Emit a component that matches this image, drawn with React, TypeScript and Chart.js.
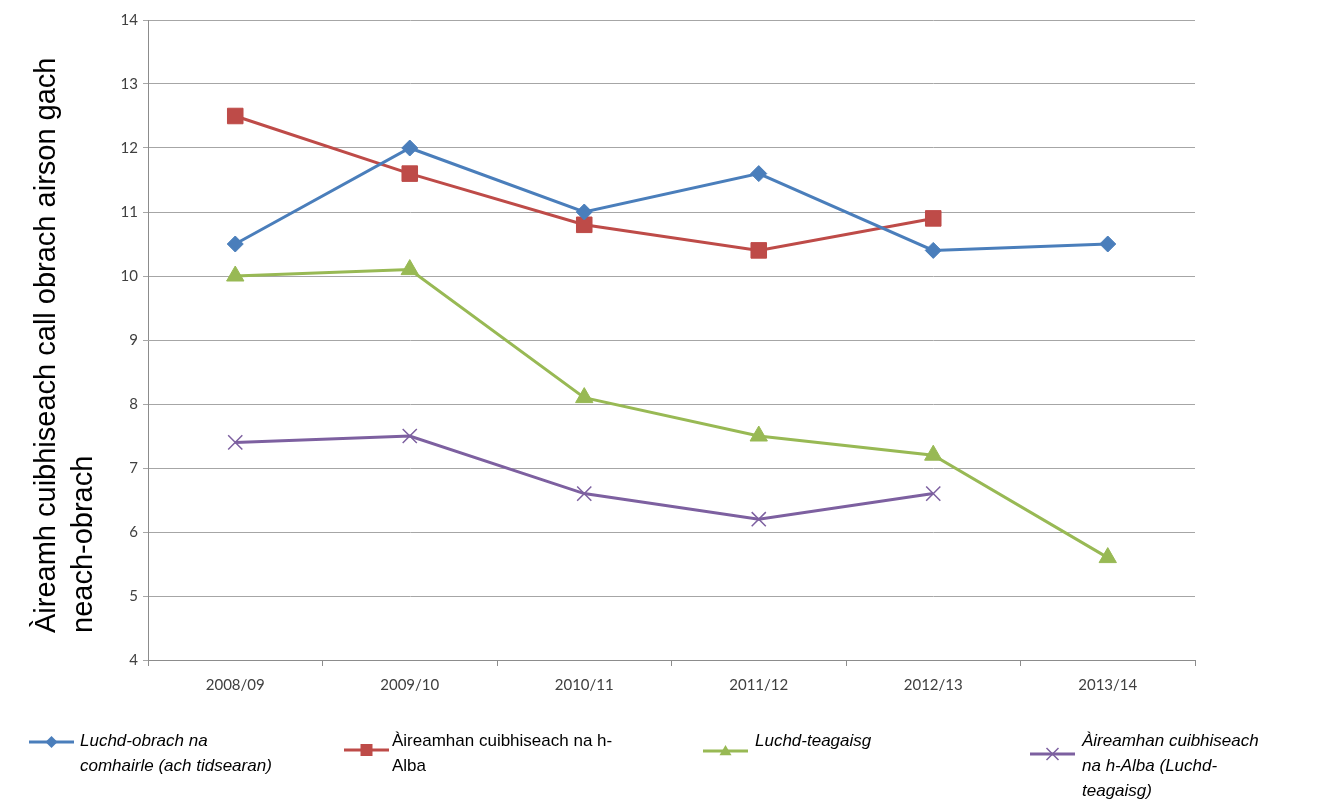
import React, { useEffect, useRef } from "react";
import { Chart, registerables } from "chart.js";

Chart.register(...registerables);

const categories = ["2008/09", "2009/10", "2010/11", "2011/12", "2012/13", "2013/14"];
const councilStaff = [10.5, 12.0, 11.0, 11.6, 10.4, 10.5];
const scotlandAverage = [12.5, 11.6, 10.8, 10.4, 10.9, null];
const teachers = [10.0, 10.1, 8.1, 7.5, 7.2, 5.6];
const scotlandTeachersAverage = [7.4, 7.5, 6.6, 6.2, 6.6, null];

const legendLines = [
  ["Luchd-obrach na", "comhairle (ach tidsearan)"],
  ["Àireamhan cuibhiseach na h-", "Alba"],
  ["Luchd-teagaisg"],
  ["Àireamhan cuibhiseach", "na h-Alba (Luchd-", "teagaisg)"],
];
const legendItalic = [true, false, true, true];
const yTitleLines = ["Àireamh cuibhiseach call obrach airson gach", "neach-obrach"];
const yMin = 4;
const yMax = 14;

const colors = ["#4A7EBB", "#BE4B48", "#98B954", "#7D60A0"];

const legendPos = [
  { mx: 29, tx: 80, my: 742 },
  { mx: 344, tx: 392, my: 750 },
  { mx: 703, tx: 755, my: 751 },
  { mx: 1030, tx: 1082, my: 754 },
];

function drawMarker(ctx: any, type: string, r: number, x: number, y: number, color: string) {
  ctx.save();
  ctx.fillStyle = color;
  ctx.strokeStyle = color;
  ctx.beginPath();
  if (type === "rectRot") {
    ctx.moveTo(x, y - r);
    ctx.lineTo(x + r, y);
    ctx.lineTo(x, y + r);
    ctx.lineTo(x - r, y);
    ctx.closePath();
    ctx.fill();
  } else if (type === "rect") {
    ctx.rect(x - r, y - r, 2 * r, 2 * r);
    ctx.fill();
  } else if (type === "triangle") {
    ctx.moveTo(x, y - r);
    ctx.lineTo(x + r, y + r * 0.7);
    ctx.lineTo(x - r, y + r * 0.7);
    ctx.closePath();
    ctx.fill();
  } else {
    ctx.lineWidth = 1.5;
    ctx.moveTo(x - r, y - r);
    ctx.lineTo(x + r, y + r);
    ctx.moveTo(x + r, y - r);
    ctx.lineTo(x - r, y + r);
    ctx.stroke();
  }
  ctx.restore();
}

const customPlugin = {
  id: "customDecor",
  afterDraw(chart: any) {
    const ctx = chart.ctx;
    ctx.save();
    // y-axis title
    ctx.fillStyle = "#000";
    ctx.font = "29px 'Liberation Sans', Arial, sans-serif";
    ctx.textAlign = "left";
    ctx.textBaseline = "middle";
    const xs = [47, 84];
    yTitleLines.forEach((line, i) => {
      ctx.save();
      ctx.translate(xs[i], 633);
      ctx.rotate(-Math.PI / 2);
      ctx.fillText(line, 0, 0);
      ctx.restore();
    });
    // legend
    chart.data.datasets.forEach((ds: any, i: number) => {
      const p = legendPos[i];
      ctx.strokeStyle = ds.borderColor;
      ctx.lineWidth = 3;
      ctx.beginPath();
      ctx.moveTo(p.mx, p.my);
      ctx.lineTo(p.mx + 45, p.my);
      ctx.stroke();
      drawMarker(ctx, ds.pointStyle, 6, p.mx + 22.5, p.my, ds.borderColor);
      ctx.fillStyle = "#000";
      ctx.font = (legendItalic[i] ? "italic " : "") + "17px 'Liberation Sans', Arial, sans-serif";
      ctx.textAlign = "left";
      ctx.textBaseline = "middle";
      legendLines[i].forEach((l, j) => {
        ctx.fillText(l, p.tx, 741 + j * 25);
      });
    });
    ctx.restore();
  },
};

export default function App() {
  const canvasRef = useRef<HTMLCanvasElement | null>(null);

  useEffect(() => {
    const canvas = canvasRef.current;
    if (!canvas) return;
    const mk = (label: string, data: any[], color: string, pointStyle: string, radius: number, bw: number) => ({
      label,
      data,
      borderColor: color,
      backgroundColor: color,
      pointBackgroundColor: color,
      pointBorderColor: color,
      pointStyle,
      pointRadius: radius,
      pointBorderWidth: bw,
      borderWidth: 3,
      tension: 0,
      spanGaps: false,
    });
    const chart = new Chart(canvas, {
      type: "line",
      data: {
        labels: categories,
        datasets: [
          mk(legendLines[0].join(" "), councilStaff, colors[0], "rectRot", 8, 1),
          mk(legendLines[1].join(" "), scotlandAverage, colors[1], "rect", 11, 1),
          mk(legendLines[2].join(" "), teachers, colors[2], "triangle", 10, 1),
          mk(legendLines[3].join(" "), scotlandTeachersAverage, colors[3], "crossRot", 10, 1.5),
        ],
      },
      options: {
        animation: false,
        responsive: false,
        maintainAspectRatio: false,
        layout: { padding: { left: 0, top: 20, right: 124, bottom: 92 } },
        plugins: {
          legend: { display: false },
          tooltip: { enabled: false },
          title: { display: false },
        },
        scales: {
          x: {
            type: "category",
            offset: true,
            grid: {
              display: true,
              drawOnChartArea: false,
              drawTicks: true,
              tickLength: 6,
              color: "#8C8C8C",
              offset: true,
            },
            border: { display: true, color: "#8C8C8C", width: 1 },
            ticks: {
              color: "#404040",
              font: { family: "Lato, 'Open Sans', sans-serif", size: 15 },
              padding: 10,
              maxRotation: 0,
            },
            afterFit: (scale: any) => {
              scale.height = 50;
            },
          },
          y: {
            min: yMin,
            max: yMax,
            ticks: {
              stepSize: 1,
              color: "#404040",
              font: { family: "Lato, 'Open Sans', sans-serif", size: 15 },
              padding: 5,
            },
            grid: {
              color: "#A6A6A6",
              tickLength: 5,
              lineWidth: 1,
            },
            border: { display: true, color: "#8C8C8C", width: 1 },
            afterFit: (scale: any) => {
              scale.width = 148;
            },
          },
        },
      },
      plugins: [customPlugin],
    } as any);
    return () => chart.destroy();
  }, []);

  return (
    <div style={{ position: "fixed", left: 0, top: 0, width: 1319, height: 802, background: "#fff" }}>
      <canvas ref={canvasRef} width={1319} height={802} style={{ width: 1319, height: 802 }} />
    </div>
  );
}
